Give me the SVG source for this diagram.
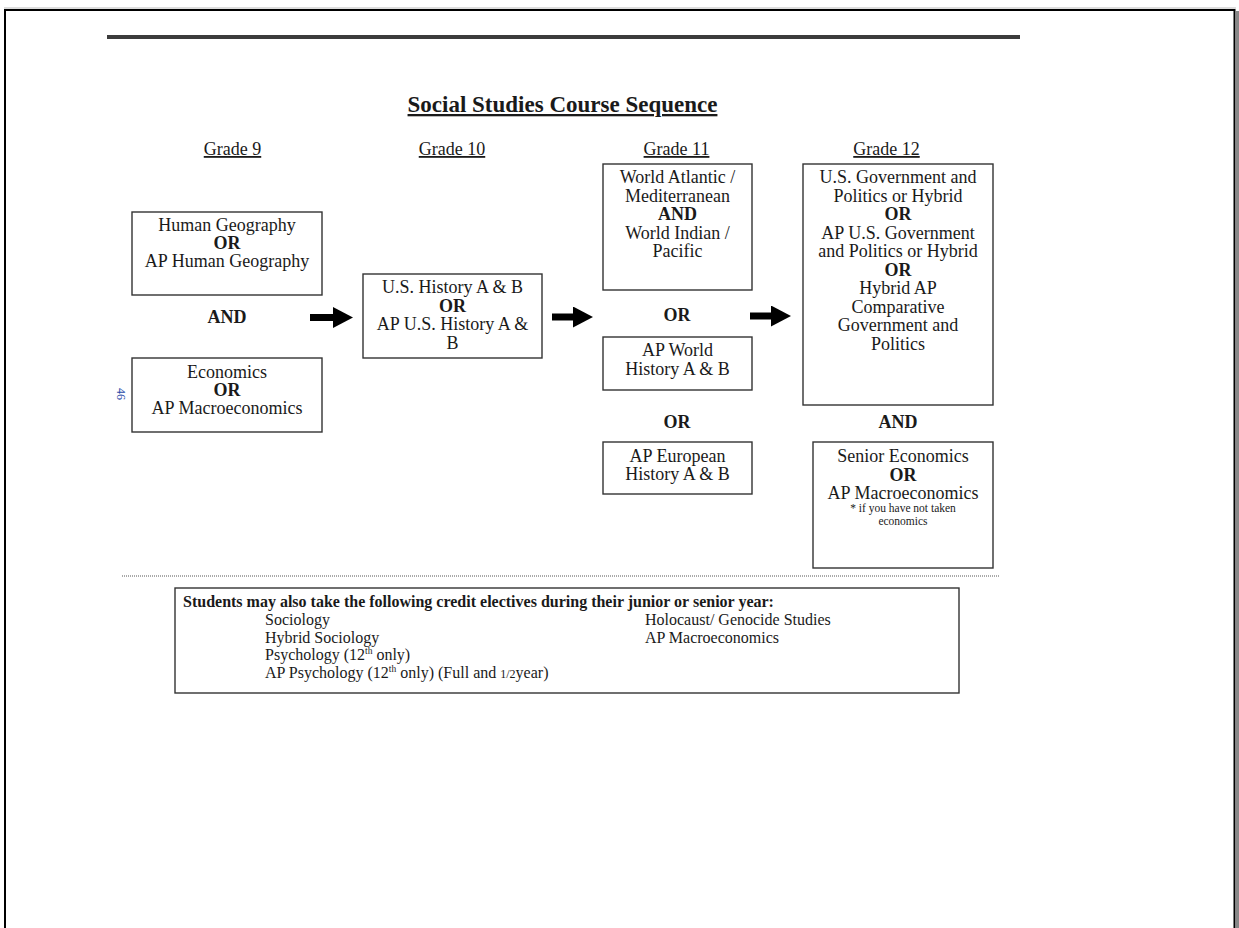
<svg xmlns="http://www.w3.org/2000/svg" width="1239" height="928" viewBox="0 0 1239 928">
<style>
text{font-family:"Liberation Serif","Times New Roman",serif;fill:#1a1a1a}
.t{font-size:18px;text-anchor:middle}
.b{font-weight:bold}
.g{font-size:18px;text-anchor:middle;text-decoration:underline}
.box{fill:#fff;stroke:#333;stroke-width:1.4}
.e{font-size:16px}
.s{font-size:11.5px;text-anchor:middle}
</style>
<defs>
<marker id="ah" markerUnits="userSpaceOnUse" markerWidth="21" markerHeight="22" refX="1" refY="10.5" orient="auto">
<path d="M0,0 L20,10.5 L0,21 z" fill="#000"/>
</marker>
</defs>
<rect x="0" y="0" width="1239" height="928" fill="#fff"/>
<g id="page-frame">
<line x1="4" y1="8" x2="1236" y2="8" stroke="#bbb" stroke-width="1"/>
<path d="M5,928 V10 H1234.5 V928" fill="none" stroke="#000" stroke-width="2"/>
<rect x="1235.5" y="11" width="3.5" height="917" fill="#888"/>
</g>
<line x1="107" y1="37" x2="1020" y2="37" stroke="#3c3c3c" stroke-width="4"/>
<text x="562.5" y="112" font-size="23" font-weight="bold" text-anchor="middle" text-decoration="underline">Social Studies Course Sequence</text>
<g id="grade-labels">
<text class="g" x="232.5" y="155">Grade 9</text>
<text class="g" x="452" y="155">Grade 10</text>
<text class="g" x="676.5" y="155">Grade 11</text>
<text class="g" x="886.5" y="155">Grade 12</text>
</g>
<g id="n-human-geo">
<rect class="box" x="132" y="212" width="190" height="83"/>
<text class="t" x="227" y="231">Human Geography</text>
<text class="t b" x="227" y="249">OR</text>
<text class="t" x="227" y="267">AP Human Geography</text>
</g>
<text class="t b" x="227" y="323">AND</text>
<g id="n-economics">
<rect class="box" x="132" y="358" width="190" height="74"/>
<text class="t" x="227" y="378">Economics</text>
<text class="t b" x="227" y="396">OR</text>
<text class="t" x="227" y="414">AP Macroeconomics</text>
</g>
<text x="121" y="394" font-size="12" fill="#2a4aa8" style="fill:#2a4aa8" text-anchor="middle" transform="rotate(90 121 394)" dy="4">46</text>
<g id="n-us-history">
<rect class="box" x="363" y="274" width="179" height="84"/>
<text class="t" x="452.5" y="293">U.S. History A &amp; B</text>
<text class="t b" x="452.5" y="311.5">OR</text>
<text class="t" x="452.5" y="330">AP U.S. History A &amp;</text>
<text class="t" x="452.5" y="348.5">B</text>
</g>
<g id="n-world-atlantic">
<rect class="box" x="603" y="164" width="149" height="126"/>
<text class="t" x="677.5" y="183">World Atlantic /</text>
<text class="t" x="677.5" y="201.5">Mediterranean</text>
<text class="t b" x="677.5" y="220">AND</text>
<text class="t" x="677.5" y="238.5">World Indian /</text>
<text class="t" x="677.5" y="257">Pacific</text>
</g>
<text class="t b" x="677" y="321">OR</text>
<g id="n-ap-world">
<rect class="box" x="603" y="337" width="149" height="53"/>
<text class="t" x="677.5" y="356">AP World</text>
<text class="t" x="677.5" y="374.5">History A &amp; B</text>
</g>
<text class="t b" x="677" y="428">OR</text>
<g id="n-ap-european">
<rect class="box" x="603" y="442" width="149" height="52"/>
<text class="t" x="677.5" y="461.5">AP European</text>
<text class="t" x="677.5" y="480">History A &amp; B</text>
</g>
<g id="n-government">
<rect class="box" x="803" y="164" width="190" height="241"/>
<text class="t" x="898" y="183">U.S. Government and</text>
<text class="t" x="898" y="201.5">Politics or Hybrid</text>
<text class="t b" x="898" y="220">OR</text>
<text class="t" x="898" y="238.5">AP U.S. Government</text>
<text class="t" x="898" y="257">and Politics or Hybrid</text>
<text class="t b" x="898" y="275.5">OR</text>
<text class="t" x="898" y="294">Hybrid AP</text>
<text class="t" x="898" y="312.5">Comparative</text>
<text class="t" x="898" y="331">Government and</text>
<text class="t" x="898" y="349.5">Politics</text>
</g>
<text class="t b" x="898" y="428">AND</text>
<g id="n-senior-econ">
<rect class="box" x="813" y="442" width="180" height="126"/>
<text class="t" x="903" y="462">Senior Economics</text>
<text class="t b" x="903" y="480.5">OR</text>
<text class="t" x="903" y="499">AP Macroeconomics</text>
<text class="s" x="903" y="512">* if you have not taken</text>
<text class="s" x="903" y="525">economics</text>
</g>
<g id="connectors" stroke="#000" stroke-width="7">
<line x1="310" y1="317.5" x2="334" y2="317.5" marker-end="url(#ah)"/>
<line x1="552" y1="317" x2="574" y2="317" marker-end="url(#ah)"/>
<line x1="750" y1="316" x2="772" y2="316" marker-end="url(#ah)"/>
</g>
<line x1="122" y1="576" x2="1000" y2="576" stroke="#555" stroke-width="1" stroke-dasharray="1,1"/>
<g id="n-electives">
<rect class="box" x="175" y="588" width="784" height="105"/>
<text class="e b" x="183" y="607">Students may also take the following credit electives during their junior or senior year:</text>
<text class="e" x="265" y="625">Sociology</text>
<text class="e" x="265" y="642.5">Hybrid Sociology</text>
<text class="e" x="265" y="660">Psychology (12<tspan font-size="9.5" dy="-6">th</tspan><tspan dy="6"> only)</tspan></text>
<text class="e" x="265" y="677.5">AP Psychology (12<tspan font-size="9.5" dy="-6">th</tspan><tspan dy="6"> only) (Full and </tspan><tspan font-size="12">1/2</tspan>year)</text>
<text class="e" x="645" y="625">Holocaust/ Genocide Studies</text>
<text class="e" x="645" y="642.5">AP Macroeconomics</text>
</g>
</svg>
